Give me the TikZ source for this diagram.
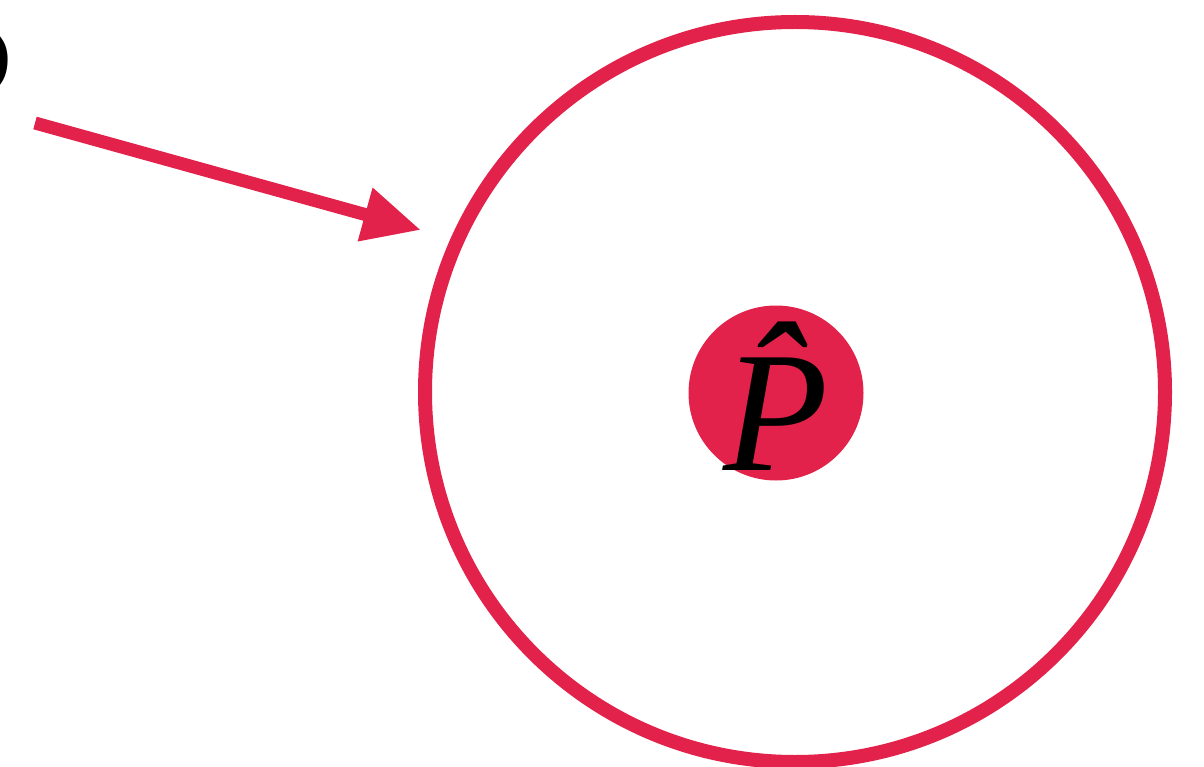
\documentclass[tikz,border=0pt]{standalone}
\usepackage{fontspec}
\setmainfont{Liberation Serif}
\usetikzlibrary{arrows.meta}
\definecolor{crim}{HTML}{E2224A}
\begin{document}
\begin{tikzpicture}[x=1pt,y=-1pt,
  ring/.style={draw=crim,line width=14pt},
  dot/.style={circle,fill=crim,minimum size=175pt,inner sep=0pt},
  pointer/.style={draw=crim,line width=13pt,-{Triangle[length=58pt,width=52pt]}}]
\useasboundingbox (0,0) rectangle (1204,767);
\begin{scope}
\clip (0,0) rectangle (1204,767);
\node[ring,circle,minimum size=740pt,inner sep=0pt] (outer) at (795,392) {};
\node[anchor=east,inner sep=0pt,font=\fontsize{190}{190}\selectfont\bfseries] (lbl) at (16,36) {S};
\end{scope}
\node[dot] (inner) at (776,393) {};
\node[inner sep=0pt,anchor=base,font=\fontsize{172}{172}\selectfont\itshape] (P) at (776,470) {\^{P}};
\coordinate (start) at (35,123);
\coordinate (tip) at (421,230);
\draw[pointer] (start) -- (tip);
\end{tikzpicture}
\end{document}
